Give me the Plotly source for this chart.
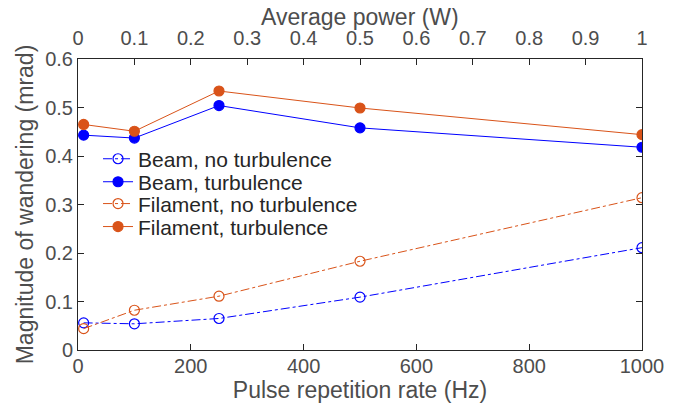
import plotly.graph_objects as go

rate_hz = [10, 100, 250, 500, 1000]
beam_no_turb = [0.056, 0.054, 0.065, 0.109, 0.211]
beam_turb = [0.443, 0.437, 0.504, 0.458, 0.418]
fil_no_turb = [0.044, 0.082, 0.111, 0.183, 0.314]
fil_turb = [0.465, 0.451, 0.534, 0.499, 0.444]

power_ticks = [0, 0.1, 0.2, 0.3, 0.4, 0.5, 0.6, 0.7, 0.8, 0.9, 1]
power_labels = ["0", "0.1", "0.2", "0.3", "0.4", "0.5", "0.6", "0.7", "0.8", "0.9", "1"]
rate_ticks = [0, 200, 400, 600, 800, 1000]
y_ticks = [0, 0.1, 0.2, 0.3, 0.4, 0.5, 0.6]
y_labels = ["0", "0.1", "0.2", "0.3", "0.4", "0.5", "0.6"]

BLUE = "#0000FF"
ORANGE = "#D95319"
AX = "#4D4D4D"
LINE = "#262626"
FONT = "Liberation Sans, Arial, sans-serif"
TICK = 20
TITLE = 23

series = [
    ("Beam, no turbulence", beam_no_turb, BLUE, "dashdot", "circle-open", "legend"),
    ("Beam, turbulence", beam_turb, BLUE, "solid", "circle", "legend2"),
    ("Filament, no turbulence", fil_no_turb, ORANGE, "dashdot", "circle-open", "legend3"),
    ("Filament, turbulence", fil_turb, ORANGE, "solid", "circle", "legend4"),
]

fig = go.Figure()
for name, vals, col, dash, sym, leg in series:
    fig.add_trace(go.Scatter(
        x=rate_hz, y=vals, name=name, mode="lines+markers", legend=leg,
        line=dict(color=col, width=1, dash=dash),
        marker=dict(symbol=sym, size=10, color=col, line=dict(width=1.2, color=col)),
    ))

# invisible trace to anchor the top axis
fig.add_trace(go.Scatter(x=power_ticks, y=[None] * len(power_ticks), xaxis="x2",
                         showlegend=False, hoverinfo="skip", mode="markers",
                         marker=dict(opacity=0)))

legend_y = [0.656, 0.577, 0.502, 0.423]
leg_common = dict(x=0.0355, xanchor="left", yanchor="middle",
                  bgcolor="rgba(255,255,255,0)", borderwidth=0,
                  font=dict(size=21, color="#262626", family=FONT), itemwidth=30)

axis_common = dict(ticks="inside", ticklen=6, tickcolor=LINE, showline=True,
                   linecolor=LINE, linewidth=1, showgrid=False, zeroline=False,
                   automargin=False, tickfont=dict(size=TICK, color=AX, family=FONT))

fig.update_layout(
    width=674, height=399,
    margin=dict(l=70, r=40, t=51, b=57),
    plot_bgcolor="white", paper_bgcolor="white",
    font=dict(family=FONT, size=TICK, color=AX),
    xaxis=dict(range=[0, 1000], tickvals=rate_ticks, ticklabelstandoff=-2,
               title=dict(text="Pulse repetition rate (Hz)", font=dict(size=TITLE, color=AX), standoff=2),
               **axis_common),
    xaxis2=dict(range=[0, 1], tickvals=power_ticks, ticktext=power_labels,
                overlaying="x", side="top", anchor="y", ticklabelstandoff=5,
                **axis_common),
    yaxis=dict(range=[0, 0.6], tickvals=y_ticks, ticktext=y_labels, mirror="ticks",
               title=dict(text="Magnitude of wandering (mrad)", font=dict(size=TITLE, color=AX), standoff=5),
               **axis_common),
    legend=dict(y=legend_y[0], **leg_common),
    legend2=dict(y=legend_y[1], **leg_common),
    legend3=dict(y=legend_y[2], **leg_common),
    legend4=dict(y=legend_y[3], **leg_common),
    showlegend=True,
    annotations=[dict(text="Average power (W)", xref="paper", yref="paper",
                      x=0.5, y=1.143, xanchor="center", yanchor="middle",
                      showarrow=False, font=dict(size=TITLE, color=AX, family=FONT))],
)

fig.write_html("out.html")
